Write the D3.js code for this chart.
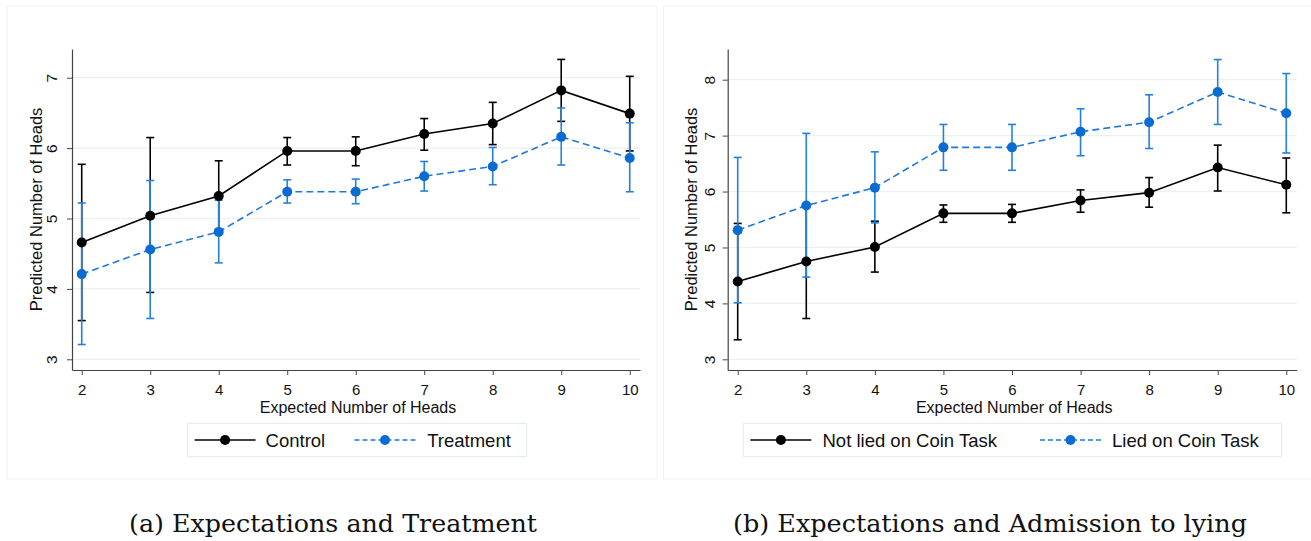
<!DOCTYPE html>
<html>
<head>
<meta charset="utf-8">
<script src="https://cdn.jsdelivr.net/npm/d3@7"></script>
<style>
  html, body { margin: 0; padding: 0; background: #fff; }
  svg { display: block; }
</style>
</head>
<body>
<svg id="chart" width="1311" height="541"></svg>
<script>
// ---------------- DATA ----------------
const xValues = [2, 3, 4, 5, 6, 7, 8, 9, 10];
const xTickLabels = ["2", "3", "4", "5", "6", "7", "8", "9", "10"];

// Panel (a): Expectations and Treatment
const controlMean = [4.66, 5.04, 5.32, 5.96, 5.96, 6.20, 6.35, 6.82, 6.49];
const controlLo   = [3.55, 3.95, 4.82, 5.76, 5.75, 5.97, 6.05, 6.38, 5.96];
const controlHi   = [5.77, 6.15, 5.82, 6.15, 6.16, 6.42, 6.65, 7.26, 7.02];
const treatMean   = [4.21, 4.56, 4.81, 5.38, 5.38, 5.60, 5.74, 6.16, 5.86];
const treatLo     = [3.21, 3.58, 4.37, 5.22, 5.21, 5.39, 5.48, 5.76, 5.38];
const treatHi     = [5.22, 5.54, 5.26, 5.55, 5.56, 5.81, 6.01, 6.57, 6.36];
const yTicksA = [3, 4, 5, 6, 7];
const yTickLabelsA = ["3", "4", "5", "6", "7"];

// Panel (b): Expectations and Admission to lying
const notLiedMean = [4.39, 4.75, 5.01, 5.61, 5.61, 5.84, 5.98, 6.43, 6.12];
const notLiedLo   = [3.35, 3.73, 4.56, 5.45, 5.45, 5.63, 5.72, 6.01, 5.62];
const notLiedHi   = [5.43, 5.77, 5.47, 5.76, 5.77, 6.03, 6.25, 6.83, 6.60];
const liedMean    = [5.31, 5.75, 6.07, 6.79, 6.79, 7.07, 7.24, 7.78, 7.40];
const liedLo      = [4.01, 4.47, 5.44, 6.38, 6.38, 6.64, 6.77, 7.20, 6.69];
const liedHi      = [6.61, 7.04, 6.71, 7.20, 7.20, 7.48, 7.73, 8.36, 8.11];
const yTicksB = [3, 4, 5, 6, 7, 8];
const yTickLabelsB = ["3", "4", "5", "6", "7", "8"];

const xTitle = "Expected Number of Heads";
const yTitle = "Predicted Number of Heads";
const seriesNamesA = ["Control", "Treatment"];
const seriesNamesB = ["Not lied on Coin Task", "Lied on Coin Task"];
const captionA = "(a) Expectations and Treatment";
const captionB = "(b) Expectations and Admission to lying";

// ---------------- STYLE ----------------
const SANS = "'Liberation Sans', Arial, Helvetica, sans-serif";
const SERIF = "'DejaVu Serif', serif";
const BLACK = "#000000";
const BLUE_MARK = "#0a6bd0";
const BLUE_LINE = "#1f78d8";
const BLUE_CI = "#2481db";
const GRID = "#e9f1f3";
const AXIS = "#444444";

const svg = d3.select("#chart");

function buildRows(means, lo, hi) {
  return xValues.map((x, i) => ({ x: x, m: means[i], lo: lo[i], hi: hi[i] }));
}

function drawPanel(cfg) {
  const g = svg.append("g");

  // panel frame
  g.append("rect")
    .attr("x", cfg.frame[0]).attr("y", cfg.frame[1])
    .attr("width", cfg.frame[2]).attr("height", cfg.frame[3])
    .attr("fill", "#fff").attr("stroke", "#f1f1f1").attr("stroke-width", 1);

  const x = d3.scaleLinear().domain(cfg.xDomain).range(cfg.xRange);
  const y = d3.scaleLinear().domain(cfg.yDomain).range(cfg.yRange);

  // grid
  g.append("g").selectAll("line").data(cfg.yTicks).join("line")
    .attr("x1", cfg.xRange[0]).attr("x2", cfg.xRange[1])
    .attr("y1", d => y(d)).attr("y2", d => y(d))
    .attr("stroke", GRID).attr("stroke-width", 1.2);

  // x axis
  const xAxis = g.append("g")
    .attr("transform", `translate(0,${cfg.yRange[0]})`)
    .call(d3.axisBottom(x).tickValues(xValues)
      .tickFormat((d, i) => xTickLabels[i]).tickSize(5).tickSizeOuter(0).tickPadding(4));
  xAxis.select(".domain").attr("stroke", AXIS).attr("stroke-width", 1.2);
  xAxis.selectAll(".tick line").attr("stroke", AXIS).attr("stroke-width", 1);
  xAxis.selectAll(".tick text")
    .attr("font-family", SANS).attr("font-size", "15px").attr("fill", "#111")
    .attr("dy", null).attr("y", 25);

  // y axis
  const yAxis = g.append("g")
    .attr("transform", `translate(${cfg.xRange[0]},0)`)
    .call(d3.axisLeft(y).tickValues(cfg.yTicks)
      .tickFormat((d, i) => cfg.yTickLabels[i]).tickSize(5).tickSizeOuter(0));
  yAxis.select(".domain").attr("stroke", AXIS).attr("stroke-width", 1.2);
  yAxis.selectAll(".tick line").attr("stroke", AXIS).attr("stroke-width", 1);
  yAxis.selectAll(".tick text")
    .attr("font-family", SANS).attr("font-size", "15.5px").attr("fill", "#111")
    .attr("transform", "rotate(-90)")
    .attr("x", 0).attr("dy", null).attr("y", -cfg.yLabelOffset)
    .attr("text-anchor", "middle");

  // axis titles
  g.append("text")
    .attr("x", (cfg.xRange[0] + cfg.xRange[1]) / 2 + 2)
    .attr("y", 413)
    .attr("text-anchor", "middle")
    .attr("font-family", SANS).attr("font-size", "16px").attr("fill", "#111")
    .text(xTitle);
  g.append("text")
    .attr("transform", `translate(${cfg.yTitleX},${(cfg.yRange[0] + cfg.yRange[1]) / 2}) rotate(-90)`)
    .attr("text-anchor", "middle")
    .attr("font-family", SANS).attr("font-size", "16.5px").attr("fill", "#111")
    .text(yTitle);

  const s1 = buildRows(cfg.s1[0], cfg.s1[1], cfg.s1[2]);
  const s2 = buildRows(cfg.s2[0], cfg.s2[1], cfg.s2[2]);
  const capW = 4;

  function drawCI(rows, color) {
    const cg = g.append("g").attr("stroke", color).attr("stroke-width", 1.6).attr("fill", "none");
    cg.selectAll("line.v").data(rows).join("line").attr("class", "v")
      .attr("x1", d => x(d.x)).attr("x2", d => x(d.x))
      .attr("y1", d => y(d.lo)).attr("y2", d => y(d.hi));
    cg.selectAll("line.t").data(rows).join("line").attr("class", "t")
      .attr("x1", d => x(d.x) - capW).attr("x2", d => x(d.x) + capW)
      .attr("y1", d => y(d.hi)).attr("y2", d => y(d.hi));
    cg.selectAll("line.b").data(rows).join("line").attr("class", "b")
      .attr("x1", d => x(d.x) - capW).attr("x2", d => x(d.x) + capW)
      .attr("y1", d => y(d.lo)).attr("y2", d => y(d.lo));
  }
  function drawConnected(rows, lineColor, markColor, dash) {
    const line = d3.line().x(d => x(d.x)).y(d => y(d.m));
    g.append("path").datum(rows)
      .attr("d", line).attr("fill", "none")
      .attr("stroke", lineColor).attr("stroke-width", 1.6)
      .attr("stroke-dasharray", dash);
    g.append("g").selectAll("circle").data(rows).join("circle")
      .attr("cx", d => x(d.x)).attr("cy", d => y(d.m)).attr("r", 5)
      .attr("fill", markColor);
  }

  drawCI(s1, BLACK);
  drawCI(s2, BLUE_CI);
  drawConnected(s1, BLACK, BLACK, null);
  drawConnected(s2, BLUE_LINE, BLUE_MARK, "7,4");

  // legend
  const L = cfg.legend;
  g.append("rect")
    .attr("x", L.box[0]).attr("y", L.box[1]).attr("width", L.box[2]).attr("height", L.box[3])
    .attr("fill", "#fff").attr("stroke", "#e6eef1").attr("stroke-width", 1.2);
  const items = [
    { name: cfg.names[0], x0: L.items[0][0], tx: L.items[0][1], color: BLACK, mark: BLACK, dash: null },
    { name: cfg.names[1], x0: L.items[1][0], tx: L.items[1][1], color: BLUE_LINE, mark: BLUE_MARK, dash: "5,3" }
  ];
  const ly = L.box[1] + L.box[3] / 2;
  items.forEach(it => {
    g.append("line").attr("x1", it.x0).attr("x2", it.x0 + 61)
      .attr("y1", ly).attr("y2", ly)
      .attr("stroke", it.color).attr("stroke-width", 1.6)
      .attr("stroke-dasharray", it.dash);
    g.append("circle").attr("cx", it.x0 + 30.5).attr("cy", ly).attr("r", 5).attr("fill", it.mark);
    g.append("text").attr("x", it.tx).attr("y", 447)
      .attr("font-family", SANS).attr("font-size", "18.5px").attr("fill", "#111")
      .text(it.name);
  });

  // caption
  g.append("text")
    .attr("x", cfg.caption[1]).attr("y", 532)
    .attr("font-family", SERIF).attr("font-size", "25px").attr("fill", "#111")
    .attr("textLength", cfg.caption[2]).attr("lengthAdjust", "spacingAndGlyphs")
    .text(cfg.caption[0]);
}

drawPanel({
  frame: [7, 6, 650, 473],
  xDomain: [1.858, 10.15], xRange: [72, 640],
  yDomain: [2.848, 7.408], yRange: [370, 49],
  yTicks: yTicksA, yTickLabels: yTickLabelsA, yLabelOffset: 14.7, yTitleX: 41.5,
  s1: [controlMean, controlLo, controlHi],
  s2: [treatMean, treatLo, treatHi],
  names: seriesNamesA,
  legend: { box: [187.4, 423.3, 339.3, 33.4], items: [[194.6, 265.6], [354.5, 427.2]] },
  caption: [captionA, 129, 408]
});

drawPanel({
  frame: [663.5, 6, 660, 473],
  xDomain: [1.854, 10.152], xRange: [727.7, 1296.7],
  yDomain: [2.809, 8.549], yRange: [370, 49],
  yTicks: yTicksB, yTickLabels: yTickLabelsB, yLabelOffset: 12.7, yTitleX: 697,
  s1: [notLiedMean, notLiedLo, notLiedHi],
  s2: [liedMean, liedLo, liedHi],
  names: seriesNamesB,
  legend: { box: [743.3, 423.3, 538.4, 33.4], items: [[750.4, 822.5], [1040, 1112]] },
  caption: [captionB, 733, 514]
});
</script>
</body>
</html>
